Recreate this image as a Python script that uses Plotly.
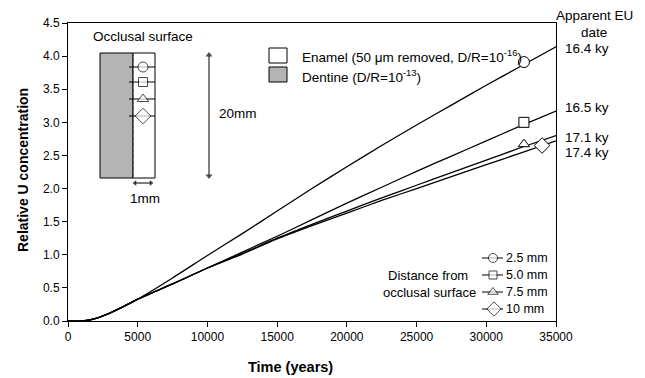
import plotly.graph_objects as go

# ---- data ----
time_years = [0, 1000, 2000, 3000, 4000, 5000, 7500, 10000, 12500, 15000, 17500,
              20000, 22500, 25000, 27500, 30000, 32500, 35000]
u_2_5mm = [0, 0.0, 0.04, 0.12, 0.22, 0.33, 0.65, 0.99, 1.32, 1.66, 2.00,
           2.33, 2.65, 2.96, 3.26, 3.56, 3.85, 4.14]
u_5_0mm = [0, 0.0, 0.04, 0.12, 0.22, 0.33, 0.56, 0.80, 1.04, 1.28, 1.53,
           1.78, 2.02, 2.26, 2.49, 2.72, 2.95, 3.17]
u_7_5mm = [0, 0.0, 0.04, 0.12, 0.22, 0.33, 0.56, 0.80, 1.02, 1.25, 1.46,
           1.66, 1.86, 2.05, 2.24, 2.43, 2.62, 2.80]
u_10mm = [0, 0.0, 0.04, 0.12, 0.22, 0.33, 0.56, 0.80, 1.01, 1.24, 1.44,
          1.63, 1.82, 2.00, 2.18, 2.36, 2.54, 2.72]

marker_time = [32700, 32700, 32700, 34000]
marker_value = [3.91, 3.00, 2.67, 2.65]

series_labels = ["2.5 mm", "5.0 mm", "7.5 mm", "10 mm"]
eu_dates = ["16.4 ky", "16.5 ky", "17.1 ky", "17.4 ky"]

x_ticks = [0, 5000, 10000, 15000, 20000, 25000, 30000, 35000]
y_ticks = [0.0, 0.5, 1.0, 1.5, 2.0, 2.5, 3.0, 3.5, 4.0, 4.5]

FONT = "Arial, Liberation Sans, sans-serif"
GRAY = "#b4b4b4"

# plot area in pixels (for decorative overlay)
PX_L, PX_R, PX_T, PX_B = 68, 556, 23, 321

fig = go.Figure()

for vals in [u_2_5mm, u_5_0mm, u_7_5mm, u_10mm]:
    fig.add_trace(go.Scatter(x=time_years, y=vals, mode="lines",
                             line=dict(color="black", width=1.3, shape="spline", smoothing=0.6),
                             showlegend=False, hoverinfo="skip"))

sym_fill = ["circle", "square", "triangle-up", "diamond"]
sym_size = [11, 10, 10, 12]
for i in range(4):
    fig.add_trace(go.Scatter(x=[marker_time[i]], y=[marker_value[i]], mode="markers",
                             marker=dict(symbol=sym_fill[i], size=sym_size[i], color="white",
                                         line=dict(color="black", width=1)),
                             showlegend=False, hoverinfo="skip", cliponaxis=False))

shapes = []
annotations = []

def px_shape(**kw):
    d = dict(xref="x2", yref="y2", layer="below")
    d.update(kw)
    shapes.append(d)

def pxx(x):
    return (x - PX_L) / (PX_R - PX_L)

def pxy(y):
    return (PX_B - y) / (PX_B - PX_T)

# tooth section diagram
px_shape(type="rect", x0=100, x1=133, y0=53, y1=178, fillcolor=GRAY, line=dict(color="black", width=1))
px_shape(type="rect", x0=133, x1=155, y0=53, y1=178, fillcolor="white", line=dict(color="black", width=1))
px_shape(type="line", x0=133, x1=133, y0=53, y1=178, line=dict(color="#444", width=1, dash="dot"))
inset_rows_y = [67, 82, 99, 116]
for yy in inset_rows_y:
    px_shape(type="line", x0=129, x1=155, y0=yy, y1=yy, line=dict(color="black", width=1))
fig.add_trace(go.Scatter(x=[143] * 4, y=inset_rows_y, xaxis="x2", yaxis="y2", mode="markers",
                         marker=dict(symbol=sym_fill, size=[10, 9, 10, 12], color="white",
                                     line=dict(color="black", width=1)),
                         showlegend=False, hoverinfo="skip"))

# scale arrows drawn as lines + arrowhead markers
px_shape(type="line", x0=209, x1=209, y0=56, y1=175, line=dict(color="black", width=1))
px_shape(type="line", x0=135, x1=151, y0=183, y1=183, line=dict(color="black", width=1))
fig.add_trace(go.Scatter(x=[209, 209, 135, 151], y=[55, 176, 183, 183], xaxis="x2", yaxis="y2",
                         mode="markers",
                         marker=dict(symbol=["triangle-up", "triangle-down", "triangle-left", "triangle-right"],
                                     size=[6, 6, 5, 5], color="black", line=dict(width=0)),
                         showlegend=False, hoverinfo="skip"))

# legend boxes for enamel / dentine
px_shape(type="rect", x0=269, x1=287, y0=48, y1=63, fillcolor="white", line=dict(color="black", width=1))
px_shape(type="rect", x0=269, x1=287, y0=67, y1=82, fillcolor=GRAY, line=dict(color="black", width=1))

# bottom-right distance legend
legend_rows_y = [258, 275, 292, 309]
for yy in legend_rows_y:
    px_shape(type="line", x0=482, x1=503, y0=yy, y1=yy, line=dict(color="black", width=1))
fig.add_trace(go.Scatter(x=[493, 493, 493, 494], y=legend_rows_y, xaxis="x2", yaxis="y2", mode="markers",
                         marker=dict(symbol=sym_fill, size=[9, 8, 9, 11], color="white",
                                     line=dict(color="black", width=1)),
                         showlegend=False, hoverinfo="skip"))

def txt(x, y, s, anchor="left", size=13.5, **kw):
    d = dict(x=pxx(x), y=pxy(y), xref="paper", yref="paper", text=s, showarrow=False,
             xanchor=anchor, yanchor="middle", font=dict(family=FONT, size=size, color="black"))
    d.update(kw)
    annotations.append(d)

txt(91, 36, "Occlusal surface")
txt(217, 113, "20mm")
txt(145, 198, "1mm", anchor="center")
txt(300, 56, "Enamel (50 \u03bcm removed, D/R=10<sup>-16</sup>)")
txt(300, 76, "Dentine (D/R=10<sup>-13</sup>)")

for yy, lab in zip(legend_rows_y, series_labels):
    txt(504, yy, lab, size=12.5)
txt(428, 275, "Distance from", size=13)
annotations[-1]["xanchor"] = "center"
txt(429, 292, "occlusal surface", anchor="center", size=13)

txt(594, 15, "Apparent EU", anchor="center")
txt(594, 33, "date", anchor="center")
for yy, lab in zip([48, 107, 137, 152], eu_dates):
    txt(563, yy, lab)

# axis titles
txt(290, 367, "<b>Time (years)</b>", anchor="center", size=14.5)
annotations.append(dict(x=pxx(23), y=pxy(170), xref="paper", yref="paper",
                        text="<b>Relative U concentration</b>", showarrow=False, textangle=-90,
                        xanchor="center", yanchor="middle",
                        font=dict(family=FONT, size=14, color="black")))

fig.update_layout(
    width=645, height=378,
    margin=dict(l=PX_L, r=645 - PX_R, t=PX_T, b=378 - PX_B),
    paper_bgcolor="white", plot_bgcolor="white",
    font=dict(family=FONT, size=12, color="black"),
    showlegend=False,
    shapes=shapes, annotations=annotations,
    xaxis=dict(range=[0, 35000], tickvals=x_ticks, ticktext=[str(v) for v in x_ticks],
               showline=True, mirror=True, linecolor="black", linewidth=1,
               ticks="outside", ticklen=5, tickcolor="black", showgrid=False, zeroline=False,
               tickfont=dict(family=FONT, size=12)),
    yaxis=dict(range=[0, 4.5], tickvals=y_ticks, ticktext=[f"{v:.1f}" for v in y_ticks],
               showline=True, mirror=True, linecolor="black", linewidth=1,
               ticks="outside", ticklen=5, tickcolor="black", showgrid=False, zeroline=False,
               tickfont=dict(family=FONT, size=12)),
    xaxis2=dict(overlaying="x", range=[PX_L, PX_R], visible=False, fixedrange=True),
    yaxis2=dict(overlaying="y", range=[PX_B, PX_T], visible=False, fixedrange=True),
)

fig.write_html("out.html")
